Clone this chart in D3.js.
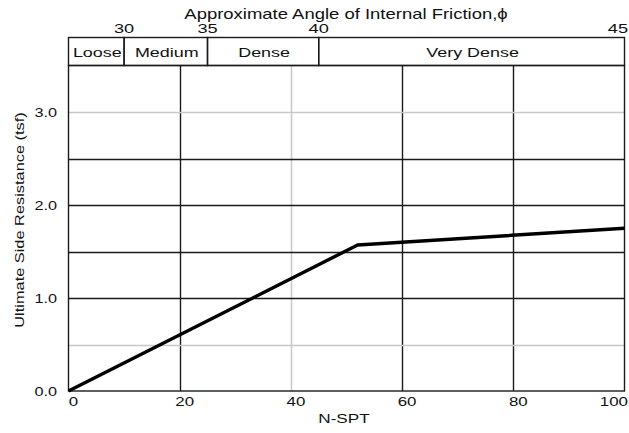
<!DOCTYPE html>
<html>
<head>
<meta charset="utf-8">
<script src="https://cdn.jsdelivr.net/npm/d3@7"></script>
<style>
  body { margin: 0; background: #fff; }
  svg text { font-family: "Liberation Sans", Arial, sans-serif; fill: #111; }
</style>
</head>
<body>
<div class="chart"></div>
<script>
// data
const nSpt = [0, 52, 100];
const sideResistance = [0, 1.57, 1.75];

const xTicks = [0, 20, 40, 60, 80, 100];
const yTicks = [0, 1, 2, 3];
const xGrid = [20, 40, 60, 80];
const xGridLight = [40];
const yGrid = [0.5, 1, 1.5, 2, 2.5, 3];
const yGridLight = [0.5, 3];

// friction angle marks, placed on the N-SPT axis
const angleLabels = ["30", "35", "40", "45"];
const angleAtN = [10, 25, 45, 100];

// density classes (start/end N)
const densityNames = ["Loose", "Medium", "Dense", "Very Dense"];
const densityStart = [0, 10, 25, 45];
const densityEnd = [10, 25, 45, 100];

const width = 629, height = 433;
const left = 68.5, right = 624.5, plotTop = 65.5, plotBottom = 391;
const bandTop = 37.5;

const svg = d3.select(".chart").append("svg")
  .attr("width", width)
  .attr("height", height);

const x = d3.scaleLinear().domain([0, 100]).range([left, right]);
const y = d3.scaleLinear().domain([0, 3.5]).range([plotBottom, plotTop]);

// the reference lettering is stretched sideways, so widen each label
function label(px, py, str, size, anchor, sx, rot) {
  let t = "translate(" + px + "," + py + ")";
  if (rot) t += " rotate(" + rot + ")";
  t += " scale(" + sx + ",1)";
  return svg.append("text")
    .attr("transform", t)
    .attr("text-anchor", anchor)
    .attr("font-size", size + "px")
    .text(str);
}

// gridlines
let grid = svg.append("g").attr("class", "grid");
xGrid.forEach(function (v) {
  grid.append("line")
    .attr("x1", Math.round(x(v)) + 0.5).attr("x2", Math.round(x(v)) + 0.5)
    .attr("y1", plotTop).attr("y2", plotBottom)
    .attr("stroke", xGridLight.includes(v) ? "#c8c8c8" : "#1a1a1a")
    .attr("stroke-width", xGridLight.includes(v) ? 1.5 : 1.4);
});
yGrid.forEach(function (v) {
  grid.append("line")
    .attr("x1", left).attr("x2", right)
    .attr("y1", Math.round(y(v)) + 0.5).attr("y2", Math.round(y(v)) + 0.5)
    .attr("stroke", yGridLight.includes(v) ? "#c8c8c8" : "#1a1a1a")
    .attr("stroke-width", yGridLight.includes(v) ? 1.5 : 1.4);
});

// plot frame
svg.append("rect")
  .attr("x", left).attr("y", plotTop)
  .attr("width", right - left).attr("height", plotBottom - plotTop)
  .attr("fill", "none").attr("stroke", "#1a1a1a").attr("stroke-width", 1.4);

// density band above the plot
densityNames.forEach(function (name, i) {
  svg.append("rect")
    .attr("x", x(densityStart[i])).attr("y", bandTop)
    .attr("width", x(densityEnd[i]) - x(densityStart[i]))
    .attr("height", plotTop - bandTop)
    .attr("fill", "none").attr("stroke", "#1a1a1a").attr("stroke-width", 1.4);
  label((x(densityStart[i]) + x(densityEnd[i])) / 2 + 1, 57, name, 13, "middle", 1.38);
});

// friction angle labels (last one pinned to the right edge)
angleLabels.forEach(function (lab, i) {
  let last = i === angleLabels.length - 1;
  label(last ? 628 : x(angleAtN[i]), 33, lab, 13, last ? "end" : "middle", 1.4);
});

label(346, 19, "Approximate Angle of Internal Friction,\u03d5", 14, "middle", 1.32);

// axis tick labels
xTicks.forEach(function (v, i) {
  let last = i === xTicks.length - 1;
  label(last ? 628 : x(v) + 5, 406, d3.format("d")(v), 13, last ? "end" : "middle", 1.3);
});
yTicks.forEach(function (v) {
  label(57, y(v) + 5, d3.format(".1f")(v), 13, "end", 1.25);
});

// axis titles
label(344, 423, "N-SPT", 13, "middle", 1.32);
label(24, 220, "Ultimate Side Resistance (tsf)", 13, "middle", 1.26, -90);

// data line
const line = d3.line()
  .x(function (d) { return x(d[0]); })
  .y(function (d) { return y(d[1]); });

svg.append("path")
  .datum(d3.zip(nSpt, sideResistance))
  .attr("fill", "none")
  .attr("stroke", "#000")
  .attr("stroke-width", 3.4)
  .attr("stroke-linejoin", "round")
  .attr("d", line);
</script>
</body>
</html>
